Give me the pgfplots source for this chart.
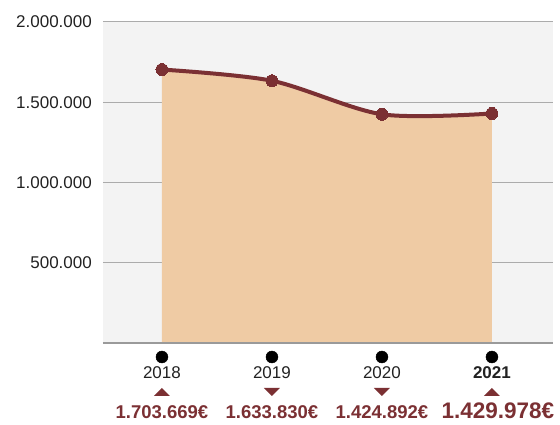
\documentclass[border=0pt]{standalone}
\usepackage{fontspec}
\setmainfont{Liberation Sans}
\usepackage{pgfplots}
\pgfplotsset{compat=1.18}
\definecolor{bgc}{HTML}{F3F3F3}
\definecolor{gridc}{HTML}{ABABAB}
\definecolor{axc}{HTML}{9A9A9A}
\definecolor{areac}{HTML}{EFCBA4}
\definecolor{linec}{HTML}{7B3033}
\definecolor{txt}{HTML}{222222}
\pgfdeclareplotmark{tup}{%
  \pgfpathmoveto{\pgfpoint{-8pt}{-4pt}}\pgfpathlineto{\pgfpoint{8pt}{-4pt}}%
  \pgfpathlineto{\pgfpoint{0pt}{4pt}}\pgfpathclose\pgfusepathqfill}
\pgfdeclareplotmark{tdown}{%
  \pgfpathmoveto{\pgfpoint{-8pt}{4pt}}\pgfpathlineto{\pgfpoint{8pt}{4pt}}%
  \pgfpathlineto{\pgfpoint{0pt}{-4pt}}\pgfpathclose\pgfusepathqfill}
\tikzset{yr/.style={text=txt,font=\fontsize{17}{19}\selectfont,inner sep=0pt,yshift=-30pt},
  val/.style={text=linec,font=\fontsize{18.5}{20}\selectfont\bfseries,inner sep=0pt,yshift=-69pt}}
\begin{document}
\begin{tikzpicture}
\useasboundingbox (-103pt,-82pt) rectangle (457pt,343pt);
\begin{axis}[
    at={(0,0)},anchor=south west,
    scale only axis,width=450pt,height=321pt,
    xmin=-0.536,xmax=3.555,ymin=0,ymax=2000000,
    clip=false,
    axis line style={draw=none},
    axis background/.style={fill=bgc},
    xtick=\empty,
    scaled y ticks=false,
    ytick={500000,1000000,1500000,2000000},
    yticklabels={500.000,1.000.000,1.500.000,2.000.000},
    major tick length=0pt,
    ymajorgrids,grid style={gridc,line width=1pt},
    yticklabel style={anchor=east,inner sep=0pt,xshift=-11pt,
      font=\fontsize{17}{19}\selectfont,text=txt},
]
\addplot[draw=none,fill=areac,smooth] coordinates
  {(0,1703669) (1,1633830) (2,1424892) (3,1429978)} \closedcycle;
\draw[axc,line width=1.5pt] (axis cs:-0.536,0) -- (axis cs:3.555,0);
\addplot[linec,line width=4pt,smooth,mark=*,mark size=6pt,
  mark options={solid,line width=0pt,fill=linec}] coordinates
  {(0,1703669) (1,1633830) (2,1424892) (3,1429978)};
% black dots under each year
\addplot[only marks,mark=*,mark size=6pt,black,
  mark options={yshift=-14pt}] coordinates {(0,0) (1,0) (2,0) (3,0)};
% change triangles
\addplot[only marks,mark=tup,linec,mark options={yshift=-49pt}]
  coordinates {(0,0) (3,0)};
\addplot[only marks,mark=tdown,linec,mark options={yshift=-49pt}]
  coordinates {(1,0) (2,0)};
\node[yr] at (axis cs:0,0) {2018};
\node[yr] at (axis cs:1,0) {2019};
\node[yr] at (axis cs:2,0) {2020};
\node[yr,font=\fontsize{17}{19}\selectfont\bfseries] at (axis cs:3,0) {2021};
\node[val] at (axis cs:0,0) {1.703.669€};
\node[val] at (axis cs:1,0) {1.633.830€};
\node[val] at (axis cs:2,0) {1.424.892€};
\node[val,font=\fontsize{22.5}{24}\selectfont\bfseries,yshift=1pt,xshift=6pt] at (axis cs:3,0) {1.429.978€};
\end{axis}
\end{tikzpicture}
\end{document}
